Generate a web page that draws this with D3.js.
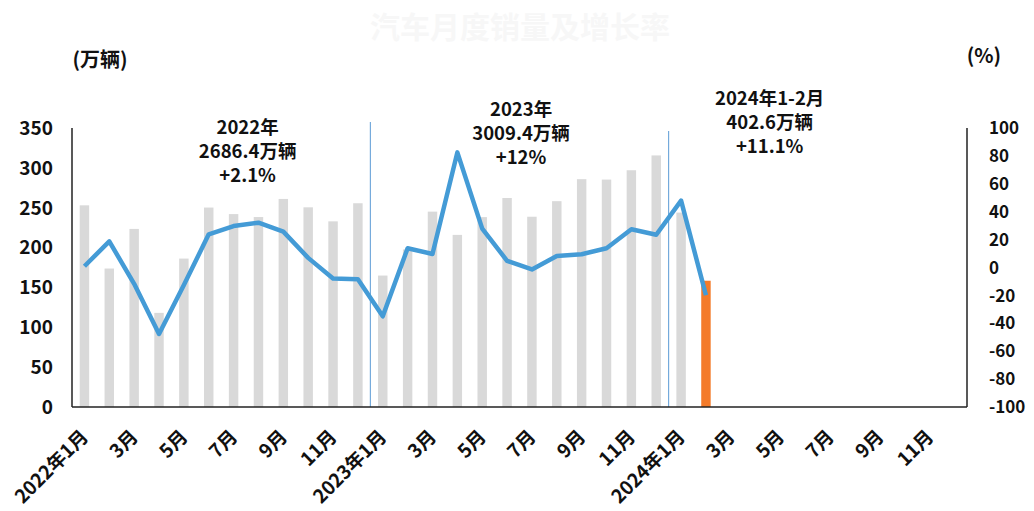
<!DOCTYPE html>
<html>
<head>
<meta charset="utf-8">
<script src="https://cdn.jsdelivr.net/npm/d3@7"></script>
<style>
  body { margin: 0; background: #fff; }
  svg text { font-family: "Noto Sans CJK SC", "Noto Sans", sans-serif; font-weight: bold; fill: #111; }
</style>
</head>
<body>
<svg id="chart" width="1034" height="511"></svg>
<script>
// months 2022-01 .. 2024-12
const months = [];
[2022, 2023, 2024].forEach(y => { for (let m = 1; m <= 12; m++) months.push(y + "-" + m); });

// monthly sales (万辆), gray bars 2022-01 .. 2024-01
const sales = [253, 173.7, 223.4, 118.1, 186.2, 250.2, 242.0, 238.3, 261.0, 250.5, 232.9, 255.6,
               164.9, 197.6, 245.1, 215.9, 238.2, 262.2, 238.7, 258.2, 285.8, 285.3, 297.0, 315.6,
               243.9];
// highlighted month 2024-02
const salesHi = [{ m: "2024-2", v: 158.4 }];
// YoY growth (%)
const growth = [0.9, 18.7, -11.7, -47.6, -12.6, 23.8, 29.7, 32.1, 25.7, 6.9, -7.9, -8.4,
                -35.0, 13.8, 9.7, 82.5, 27.9, 4.8, -1.4, 8.2, 9.5, 13.8, 27.4, 23.5,
                47.9, -19.9];
const leftTicks = [0, 50, 100, 150, 200, 250, 300, 350];
const rightTicks = [100, 80, 60, 40, 20, 0, -20, -40, -60, -80, -100];
const yearSplits = ["2023-1", "2024-1"];
const notes = [
  { at: "2022-7", lines: ["2022年", "2686.4万辆", "+2.1%"] },
  { at: "2023-6", lines: ["2023年", "3009.4万辆", "+12%"] },
  { at: "2024-4", lines: ["2024年1-2月", "402.6万辆", "+11.1%"] }
];
const xLabel = k => { const [y, m] = k.split("-"); return m === "1" ? y + "年1月" : m + "月"; };

const svg = d3.select("#chart");
const L = 72, R = 967, T = 128, B = 407;

const x = d3.scaleBand().domain(months).range([L, R]);
const yL = d3.scaleLinear().domain([0, 350]).range([B, T]);
const yR = d3.scaleLinear().domain([-100, 100]).range([B, T]);
const bw = x.bandwidth() * 0.38;
const cx = k => x(k) + x.bandwidth() / 2;

// faint title
svg.append("text").attr("x", 520).attr("y", 38).attr("text-anchor", "middle")
  .style("font-size", "30px").style("fill", "#f7f7f7").text("汽车月度销量及增长率");

// bars
svg.append("g").selectAll("rect").data(sales).join("rect")
  .attr("x", (d, i) => cx(months[i]) - bw / 2).attr("width", bw)
  .attr("y", d => yL(d)).attr("height", d => B - yL(d)).attr("fill", "#d9d9d9");
svg.append("g").selectAll("rect").data(salesHi).join("rect")
  .attr("x", d => cx(d.m) - bw / 2).attr("width", bw)
  .attr("y", d => yL(d.v)).attr("height", d => B - yL(d.v)).attr("fill", "#f47b2a");

// year split lines
svg.append("g").selectAll("line").data(yearSplits).join("line")
  .attr("x1", d => x(d)).attr("x2", d => x(d))
  .attr("y1", (d, i) => i === 0 ? 122 : 131).attr("y2", B)
  .attr("stroke", "#5b9bd5").attr("stroke-width", 1);

// growth line
svg.append("path").datum(growth)
  .attr("d", d3.line().x((d, i) => cx(months[i])).y(d => yR(d)))
  .attr("fill", "none").attr("stroke", "#449bd6").attr("stroke-width", 4.5)
  .attr("stroke-linejoin", "round");

// axes frame
const ax = svg.append("g").attr("stroke", "#222").attr("stroke-width", 1.5);
ax.append("line").attr("x1", L).attr("x2", L).attr("y1", T).attr("y2", B);
ax.append("line").attr("x1", R).attr("x2", R).attr("y1", T).attr("y2", B);
ax.append("line").attr("x1", L).attr("x2", R).attr("y1", B).attr("y2", B);

// tick labels
svg.append("g").selectAll("text").data(leftTicks).join("text")
  .attr("x", 53).attr("y", d => yL(d)).attr("dy", "0.36em").attr("text-anchor", "end")
  .style("font-size", "19px").text(d => d);
svg.append("g").selectAll("text").data(rightTicks).join("text")
  .attr("x", 989).attr("y", d => yR(d)).attr("dy", "0.36em")
  .style("font-size", "17px").text(d => d);

// axis units
svg.append("text").attr("x", 100).attr("y", 60).attr("dy", "0.36em").attr("text-anchor", "middle")
  .style("font-size", "20px").text("(万辆)");
svg.append("text").attr("x", 984).attr("y", 56).attr("dy", "0.36em").attr("text-anchor", "middle")
  .style("font-size", "20px").text("(%)");

// x labels, every other month
svg.append("g").selectAll("text").data(months.filter((d, i) => i % 2 === 0)).join("text")
  .attr("transform", d => `translate(${cx(d) + 5},${B + 31}) rotate(-45)`)
  .attr("text-anchor", "end")
  .style("font-size", "19px").text(xLabel);

// annotations
const noteY = { "2022-7": 127, "2023-6": 109, "2024-4": 98 };
notes.forEach(n => {
  svg.append("g").selectAll("text").data(n.lines).join("text")
    .attr("x", cx(n.at) + 14).attr("y", (d, i) => noteY[n.at] + i * 24)
    .attr("dy", "0.36em").attr("text-anchor", "middle")
    .style("font-size", "18.5px").text(d => d);
});
</script>
</body>
</html>
